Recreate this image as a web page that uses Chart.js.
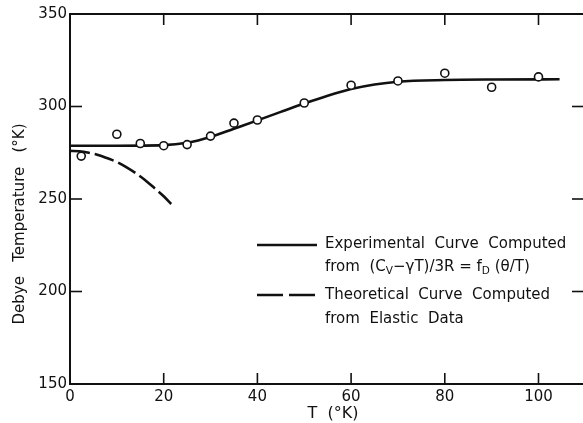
<!DOCTYPE html>
<html>
<head>
<meta charset="utf-8">
<script src="https://cdn.jsdelivr.net/npm/chart.js@4.4.1/dist/chart.umd.min.js"></script>
<style>
html, body { margin: 0; background: #fff; }
</style>
</head>
<body>
<canvas id="myChart" width="583" height="423"></canvas>
<script>
// measured points (circles)
const obsT = [2.4, 10, 15, 20, 25, 30, 35, 40, 50, 60, 70, 80, 90, 100];
const obsTheta = [273.2, 285, 280, 278.8, 279.4, 284, 291, 292.7, 301.9, 311.5, 313.8, 318, 310.4, 316];

// experimental curve
const expT = [0, 10, 20, 25, 30, 35, 40, 45, 50, 55, 60, 65, 70, 80, 90, 104.5];
const expTheta = [278.8, 278.8, 279.1, 280.4, 283.5, 288, 292.5, 297.1, 301.6, 305.8, 309.4, 311.9, 313.4, 314.3, 314.6, 314.7];

// theoretical curve
const theoT = [0, 2, 4, 6, 8, 10, 12, 14, 16, 18, 20, 21.6];
const theoTheta = [276, 275.8, 275, 273.8, 272, 270, 267.2, 264, 260.3, 256, 251.5, 247.3];

const xTicks = [0, 20, 40, 60, 80, 100];
const yTicks = [150, 200, 250, 300, 350];

function pts(xs, ys) {
  return xs.map((v, i) => ({x: v, y: ys[i]}));
}

const FONT = '"DejaVu Sans", sans-serif';
const INK = '#111';

function line(ctx, x1, y1, x2, y2) {
  ctx.beginPath();
  ctx.moveTo(x1, y1);
  ctx.lineTo(x2, y2);
  ctx.stroke();
}

// text with sub scripts: parts = [[text, isSub], ...]
function richText(ctx, parts, x, y, size) {
  let cx = x;
  parts.forEach(p => {
    const s = p[1] ? size * 0.7 : size;
    ctx.font = s + 'px ' + FONT;
    ctx.fillText(p[0], cx, p[1] ? y + size * 0.3 : y);
    cx += ctx.measureText(p[0]).width;
  });
}

const frame = {
  id: 'frame',
  beforeDatasetsDraw(chart) {
    const {ctx, chartArea: a, scales: {x, y}} = chart;
    ctx.save();
    ctx.strokeStyle = INK;
    ctx.lineWidth = 2;
    // left, bottom and top axes; the right one sits just past the edge
    ctx.beginPath();
    ctx.moveTo(a.right + 2, a.top);
    ctx.lineTo(a.left, a.top);
    ctx.lineTo(a.left, a.bottom);
    ctx.lineTo(a.right + 2, a.bottom);
    ctx.stroke();
    ctx.lineWidth = 1.6;
    xTicks.forEach(v => {
      const px = x.getPixelForValue(v);
      line(ctx, px, a.bottom, px, a.bottom - 11);
      line(ctx, px, a.top, px, a.top + 11);
    });
    yTicks.forEach(v => {
      const py = y.getPixelForValue(v);
      line(ctx, a.left, py, a.left + 12, py);
      line(ctx, a.right + 1, py, a.right - 11, py);
    });
    ctx.restore();
  },
  afterDraw(chart) {
    const {ctx} = chart;
    ctx.save();
    ctx.fillStyle = INK;
    ctx.strokeStyle = INK;
    ctx.textBaseline = 'middle';

    // axis titles
    ctx.textAlign = 'center';
    ctx.font = '16px ' + FONT;
    ctx.fillText('T  (°K)', 333, 414);
    ctx.save();
    ctx.translate(20, 224);
    ctx.rotate(-Math.PI / 2);
    ctx.font = '15px ' + FONT;
    ctx.fillText('Debye   Temperature   (°K)', 0, 0);
    ctx.restore();

    // legend
    ctx.textAlign = 'left';
    ctx.lineWidth = 2.5;
    line(ctx, 257, 245, 317, 245);
    ctx.setLineDash([26, 6]);
    line(ctx, 257, 295, 317, 295);
    ctx.setLineDash([]);
    const fs = 15;
    ctx.font = fs + 'px ' + FONT;
    ctx.fillText('Experimental  Curve  Computed', 325, 244);
    richText(ctx, [['from  (C', false], ['V', true], ['\u2212\u03B3T)/3R = f', false], ['D', true], [' (\u03B8/T)', false]], 325, 267, fs);
    ctx.font = fs + 'px ' + FONT;
    ctx.fillText('Theoretical  Curve  Computed', 325, 295);
    ctx.fillText('from  Elastic  Data', 325, 319);
    ctx.restore();
  }
};

const data = {
  datasets: [
    {
      label: 'Measured',
      data: pts(obsT, obsTheta),
      showLine: false,
      pointRadius: 4,
      pointBorderWidth: 1.6,
      pointBorderColor: INK,
      pointBackgroundColor: '#fff',
      order: 0
    },
    {
      label: 'Experimental Curve',
      data: pts(expT, expTheta),
      showLine: true,
      borderColor: INK,
      borderWidth: 2.6,
      pointRadius: 0,
      cubicInterpolationMode: 'monotone',
      order: 1
    },
    {
      label: 'Theoretical Curve',
      data: pts(theoT, theoTheta),
      showLine: true,
      borderColor: INK,
      borderWidth: 2.6,
      borderDash: [20, 5],
      pointRadius: 0,
      cubicInterpolationMode: 'monotone',
      order: 2
    }
  ]
};

const config = {
  type: 'scatter',
  data: data,
  options: {
    responsive: false,
    animation: false,
    layout: { autoPadding: false, padding: { top: 14, right: 0, left: 0, bottom: 0 } },
    plugins: {
      legend: { display: false },
      tooltip: { enabled: false }
    },
    scales: {
      x: {
        type: 'linear',
        min: 0,
        max: 109.5,
        afterBuildTicks: s => { s.ticks = xTicks.map(v => ({value: v})); },
        afterFit: s => { s.height = 39; s.paddingLeft = 0; s.paddingRight = 0; },
        grid: { display: false, drawTicks: false },
        border: { display: false },
        ticks: { padding: 4, color: INK, font: { family: FONT, size: 15 } }
      },
      y: {
        type: 'linear',
        min: 150,
        max: 350,
        afterBuildTicks: s => { s.ticks = yTicks.map(v => ({value: v})); },
        afterFit: s => { s.width = 70; s.paddingTop = 0; s.paddingBottom = 0; },
        grid: { display: false, drawTicks: false },
        border: { display: false },
        ticks: { padding: 3, color: INK, font: { family: FONT, size: 15 } }
      }
    }
  },
  plugins: [frame]
};

const myChart = new Chart(document.getElementById('myChart'), config);
</script>
</body>
</html>
